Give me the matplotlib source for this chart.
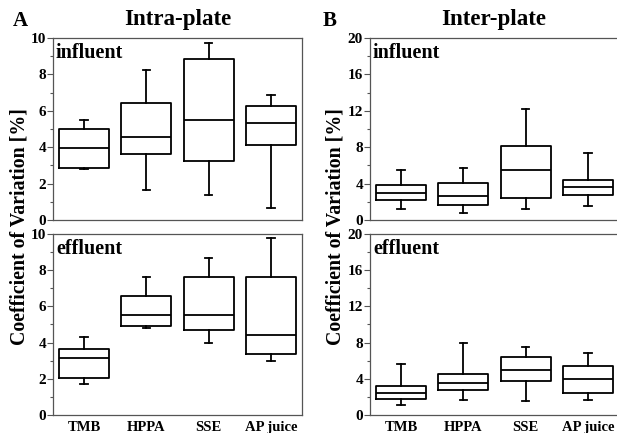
import matplotlib.pyplot as plt
from matplotlib.ticker import MultipleLocator

plt.rcParams['font.family'] = ['Liberation Serif', 'DejaVu Serif']
plt.rcParams['font.weight'] = 'bold'

samples = ['TMB', 'HPPA', 'SSE', 'AP juice']

# each series: whisker low, Q1, median, Q3, whisker high
intra_inf_low = [2.8, 1.65, 1.35, 0.65]
intra_inf_q1 = [2.85, 3.6, 3.25, 4.1]
intra_inf_med = [3.95, 4.55, 5.5, 5.35]
intra_inf_q3 = [5.0, 6.45, 8.85, 6.25]
intra_inf_high = [5.5, 8.25, 9.7, 6.85]

intra_eff_low = [1.7, 4.8, 4.0, 3.0]
intra_eff_q1 = [2.05, 4.93, 4.7, 3.35]
intra_eff_med = [3.15, 5.5, 5.5, 4.4]
intra_eff_q3 = [3.65, 6.6, 7.6, 7.65]
intra_eff_high = [4.3, 7.6, 8.7, 9.8]

inter_inf_low = [1.25, 0.75, 1.2, 1.5]
inter_inf_q1 = [2.25, 1.65, 2.4, 2.8]
inter_inf_med = [2.95, 2.65, 5.5, 3.65]
inter_inf_q3 = [3.8, 4.1, 8.15, 4.45]
inter_inf_high = [5.55, 5.7, 12.15, 7.4]

inter_eff_low = [1.1, 1.65, 1.6, 1.7]
inter_eff_q1 = [1.8, 2.8, 3.8, 2.4]
inter_eff_med = [2.4, 3.55, 5.0, 3.95]
inter_eff_q3 = [3.15, 4.5, 6.4, 5.4]
inter_eff_high = [5.6, 7.9, 7.55, 6.8]


def make_stats(low, q1, med, q3, high):
    return [dict(whislo=a, q1=b, med=c, q3=d, whishi=e, fliers=[])
            for a, b, c, d, e in zip(low, q1, med, q3, high)]


fig = plt.figure(figsize=(6.17, 4.33), dpi=100)
ax_a1 = fig.add_axes([0.0859, 0.4919, 0.4036, 0.4203])
ax_a2 = fig.add_axes([0.0859, 0.0416, 0.4036, 0.418])
ax_b1 = fig.add_axes([0.5997, 0.4919, 0.4036, 0.4203])
ax_b2 = fig.add_axes([0.5997, 0.0416, 0.4036, 0.418])

panels = [
    (ax_a1, make_stats(intra_inf_low, intra_inf_q1, intra_inf_med, intra_inf_q3, intra_inf_high), 'influent', 10, 2, 1),
    (ax_a2, make_stats(intra_eff_low, intra_eff_q1, intra_eff_med, intra_eff_q3, intra_eff_high), 'effluent', 10, 2, 1),
    (ax_b1, make_stats(inter_inf_low, inter_inf_q1, inter_inf_med, inter_inf_q3, inter_inf_high), 'influent', 20, 4, 2),
    (ax_b2, make_stats(inter_eff_low, inter_eff_q1, inter_eff_med, inter_eff_q3, inter_eff_high), 'effluent', 20, 4, 2),
]

line = dict(color='black', linewidth=1.3)
for ax, stats, label, ymax, major, minor in panels:
    ax.bxp(stats, positions=[1, 2, 3, 4], widths=0.8, capwidths=0.12,
           showfliers=False, boxprops=line, whiskerprops=line,
           capprops=line, medianprops=line)
    ax.set_xlim(0.5, 4.5)
    ax.set_ylim(0, ymax)
    ax.yaxis.set_major_locator(MultipleLocator(major))
    ax.yaxis.set_minor_locator(MultipleLocator(minor))
    ax.tick_params(axis='y', which='major', direction='out', length=4,
                   width=0.8, labelsize=11, color='#555555', pad=1)
    ax.tick_params(axis='y', which='minor', direction='out', length=2,
                   width=0.8, color='#555555')
    ax.tick_params(axis='x', length=0, labelsize=10.5, pad=4)
    for s in ax.spines.values():
        s.set_color('#555555')
        s.set_linewidth(0.9)
    for t in ax.get_yticklabels():
        t.set_fontweight('bold')
    ax.text(0.012, 0.975, label, transform=ax.transAxes, ha='left', va='top',
            fontsize=14.5, fontweight='bold')

for ax in (ax_a1, ax_b1):
    ax.set_xticks([1, 2, 3, 4])
    ax.set_xticklabels([])
for ax in (ax_a2, ax_b2):
    ax.set_xticks([1, 2, 3, 4])
    ax.set_xticklabels(samples, fontweight='bold')

fig.text(0.2877, 0.956, 'Intra-plate', ha='center', va='center',
         fontsize=16.5, fontweight='bold')
fig.text(0.8007, 0.956, 'Inter-plate', ha='center', va='center',
         fontsize=16.5, fontweight='bold')
fig.text(0.033, 0.952, 'A', ha='center', va='center', fontsize=15, fontweight='bold')
fig.text(0.535, 0.952, 'B', ha='center', va='center', fontsize=15, fontweight='bold')

fig.text(0.032, 0.477, 'Coefficient of Variation [%]', rotation=90,
         ha='center', va='center', fontsize=14.3, fontweight='bold')
fig.text(0.543, 0.477, 'Coefficient of Variation [%]', rotation=90,
         ha='center', va='center', fontsize=14.3, fontweight='bold')

fig.savefig('out.png', dpi=100)
